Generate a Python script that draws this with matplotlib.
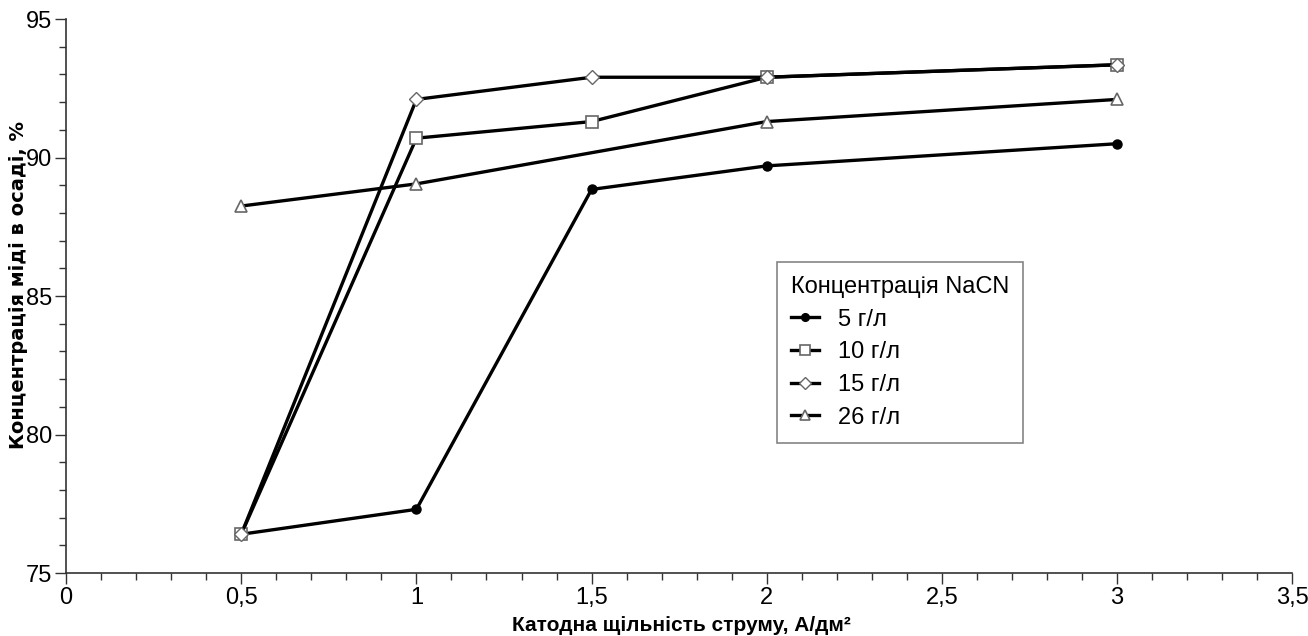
import numpy as np
import matplotlib
matplotlib.use('Agg')
import matplotlib.pyplot as plt
from matplotlib.ticker import MultipleLocator, FuncFormatter

plt.rcParams['font.family'] = ['Liberation Sans', 'DejaVu Sans']

# current density, A/dm^2
current = [0.5, 1.0, 1.5, 2.0, 3.0]
current_26 = [0.5, 1.0, 2.0, 3.0]
# copper content in deposit, %
cu_5 = [76.4, 77.3, 88.85, 89.7, 90.5]
cu_10 = [76.4, 90.7, 91.3, 92.9, 93.35]
cu_15 = [76.4, 92.1, 92.9, 92.9, 93.35]
cu_26 = [88.25, 89.05, 91.3, 92.1]
series_labels = ['5 г/л', '10 г/л', '15 г/л', '26 г/л']

fig = plt.figure(figsize=(13.08, 6.36), dpi=100)
ax = fig.add_axes([0.0505, 0.099, 0.9375, 0.871])

styles = [
    dict(marker='o', ms=6.5, mfc='black', mec='black'),
    dict(marker='s', ms=8.5, mfc='white', mec='#666666', mew=1.2),
    dict(marker='D', ms=7.5, mfc='white', mec='#666666', mew=1.0),
    dict(marker='^', ms=9, mfc='white', mec='#666666', mew=1.2),
]

xs_all = [current, current, current, current_26]
for xs, ys, lab, st in zip(xs_all, [cu_5, cu_10, cu_15, cu_26], series_labels, styles):
    ax.plot(xs, ys, color='black', lw=2.4, label=lab, **st)

ax.set_xlim(0, 3.5)
ax.set_ylim(75, 95)
ax.xaxis.set_major_locator(MultipleLocator(0.5))
ax.xaxis.set_minor_locator(MultipleLocator(0.1))
ax.yaxis.set_major_locator(MultipleLocator(5))
ax.yaxis.set_minor_locator(MultipleLocator(1))

comma = FuncFormatter(lambda v, p: ('%g' % v).replace('.', ','))
ax.xaxis.set_major_formatter(comma)
ax.yaxis.set_major_formatter(comma)

for s in ['top', 'right']:
    ax.spines[s].set_visible(False)
for s in ['left', 'bottom']:
    ax.spines[s].set_color('#333333')
    ax.spines[s].set_linewidth(1.2)

ax.tick_params(which='major', length=8, width=1, color='#333333', labelsize=17, pad=2)
ax.tick_params(which='minor', length=5, width=1, color='#333333')

ax.set_xlabel('Катодна щільність струму, А/дм²', fontsize=15, fontweight='bold')
ax.xaxis.set_label_coords(0.502, -0.078)
ax.set_ylabel('Концентрація міді в осаді, %', fontsize=14, fontweight='bold',
              family=['DejaVu Sans'])
ax.yaxis.set_label_coords(-0.031, 0.52)

leg = ax.legend(title='Концентрація NaCN', loc='upper left', bbox_to_anchor=(0.570, 0.583),
                fontsize=17, title_fontsize=17, frameon=True, fancybox=False,
                edgecolor='#666666', handlelength=1.2, handletextpad=0.8,
                borderpad=0.6, labelspacing=0.45, markerscale=0.85)
leg.get_frame().set_linewidth(1.2)
leg._legend_box.align = 'left'

fig.savefig('out.png', dpi=100)
